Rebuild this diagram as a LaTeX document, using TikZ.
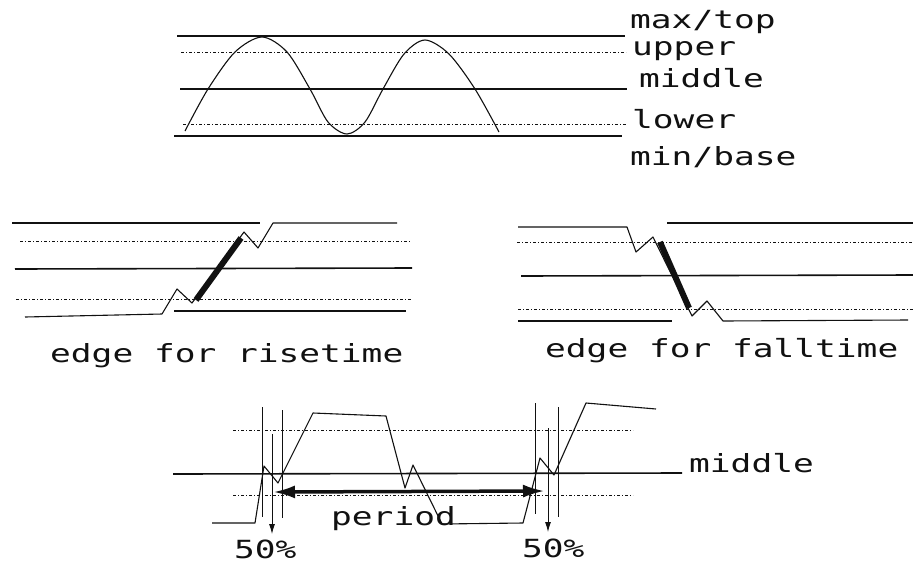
\documentclass[tikz,border=0pt]{standalone}
\usepackage{fontspec}
\usepackage{tikz}
\usetikzlibrary{arrows.meta}
\newfontfamily\plotfont{DejaVu Sans Mono}[FakeStretch=1.38]
\definecolor{plotink}{HTML}{111111}

\begin{document}
\begin{tikzpicture}[x=1pt, y=-1pt, plotink,
    level/.style={line width=1.6pt},
    refline/.style={line width=0.9pt, dash pattern=on 3pt off 2pt on 1pt off 2pt},
    wave/.style={line width=1.1pt, line join=round},
    edgebar/.style={line width=6pt},
    cursor/.style={line width=0.9pt},
    lbl/.style={font=\plotfont\fontsize{25}{30}\selectfont, inner sep=0pt, anchor=base west}]
    \useasboundingbox (0,0) rectangle (913,563);

    % levels of a waveform
    \draw[level] (177,36) -- (625,36);
    \draw[refline] (181,52) -- (626,52);
    \draw[level] (180,89) -- (627,89);
    \draw[refline] (183,124) -- (626,124);
    \draw[level] (174,136) -- (622,136);
    \draw[wave] plot[smooth] coordinates {(185,131) (208,89) (235,52) (262,37) (287,52)
      (310,89) (328,122) (347,134) (365,122) (383,89) (404,54) (425,40) (449,54) (475,89) (499,132)};
    \node[lbl] (lbl-max) at (630,28) {max/top};
    \node[lbl] (lbl-upper) at (632,55) {upper};
    \node[lbl] (lbl-mid) at (639,87) {middle};
    \node[lbl] (lbl-lower) at (632,128) {lower};
    \node[lbl] (lbl-min) at (630,165) {min/base};

    % rising edge
    \draw[level] (12,223) -- (260,223);
    \draw[refline] (20,241) -- (411,241);
    \draw[level] (15,269) -- (412,268);
    \draw[refline] (16,299) -- (411,299);
    \draw[level] (174,311) -- (406,311);
    \draw[wave] (25,317) -- (162,314) -- (177,289) -- (192,303) -- (244,232)
      -- (258,248) -- (273,223) -- (397,223);
    \draw[edgebar] (196,300) -- (241,238);
    \node[lbl] (rise-lbl) at (50,362) {edge for risetime};

    % falling edge
    \draw[level] (667,223) -- (913,223);
    \draw[refline] (517,242) -- (913,242);
    \draw[level] (521,276) -- (913,275);
    \draw[refline] (518,309) -- (913,309);
    \draw[level] (518,321) -- (672,321);
    \draw[wave] (518,227) -- (627,227) -- (636,252) -- (653,237) -- (692,316)
      -- (707,301) -- (723,321) -- (908,320);
    \draw[edgebar] (660,242) -- (689,308);
    \node[lbl] (fall-lbl) at (545,357) {edge for falltime};

    % period measurement
    \draw[level] (173,474) -- (682,473);
    \draw[refline] (233,430) -- (633,430);
    \draw[refline] (233,495) -- (633,495);
    \draw[wave] (212,523) -- (255,523) -- (264,466) -- (278,483) -- (313,413) -- (386,416)
      -- (405,488) -- (413,465) -- (442,524) -- (523,523) -- (540,458) -- (554,475)
      -- (586,403) -- (656,409);
    \draw[cursor] (262,407) -- (262,517);
    \draw[cursor] (282,410) -- (282,518);
    \draw[cursor] (535,403) -- (535,514);
    \draw[cursor] (558,407) -- (558,517);
    \coordinate (cross-a) at (272,434);
    \coordinate (cross-b) at (548,428);
    \coordinate (tip-a) at (272,534);
    \coordinate (tip-b) at (548,532);
    \draw[cursor, -{Latex[length=10pt,width=6pt]}] (cross-a) -- (tip-a);
    \draw[cursor, -{Latex[length=10pt,width=6pt]}] (cross-b) -- (tip-b);
    \coordinate (per-a) at (273,492);
    \coordinate (per-b) at (545,491);
    \draw[line width=3.5pt, {Latex[length=22pt,width=13pt]}-{Latex[length=22pt,width=13pt]}] (per-a) -- (per-b);
    \node[lbl] (period-lbl) at (331,525) {period};
    \node[lbl] (pct-a) at (234,558) {50\%};
    \node[lbl] (pct-b) at (522,557) {50\%};
    \node[lbl] (mid-lbl) at (689,472) {middle};
\end{tikzpicture}
\end{document}
